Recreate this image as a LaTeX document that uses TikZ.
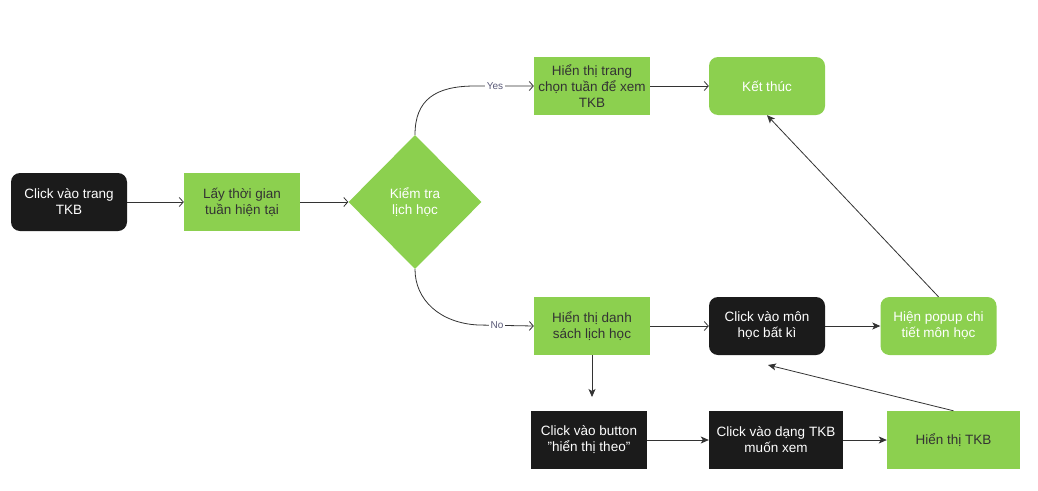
\documentclass[tikz,border=0pt]{standalone}
\usepackage{fontspec}
\setmainfont{Liberation Sans}
\usetikzlibrary{shapes.geometric,arrows.meta}
\definecolor{gr}{HTML}{8CD04F}
\definecolor{bk}{HTML}{1B1B1B}
\definecolor{ln}{HTML}{333333}
\definecolor{lbl}{HTML}{5A5A78}
\tikzset{
  base/.style={minimum width=116pt,minimum height=58pt,inner sep=2pt,align=center,font=\fontsize{13.5}{16}\selectfont},
  greenbox/.style={base,fill=gr,text=ln},
  greenround/.style={base,fill=gr,text=white,rounded corners=9pt},
  blackbox/.style={base,fill=bk,text=white},
  blackround/.style={base,fill=bk,text=white,rounded corners=9pt},
  openarr/.style={draw=ln,line width=0.8pt,-{Straight Barb[length=4pt,width=9pt]}},
  fillarr/.style={draw=ln,line width=0.8pt,-{Stealth[length=8pt,width=7pt,inset=2pt]}},
  lab/.style={fill=white,text=lbl,font=\fontsize{10}{11}\selectfont,inner sep=2pt}
}
\begin{document}
\begin{tikzpicture}[x=1pt,y=-1pt]
\useasboundingbox (0,0) rectangle (1038,490);
\node[blackround] (start) at (69,202) {Click vào trang\\TKB};
\node[greenbox] (get) at (242,202) {Lấy thời gian\\tuần hiện tại};
\node[diamond,fill=gr,text=white,minimum width=133pt,minimum height=134pt,inner sep=0pt,align=center,font=\fontsize{13.5}{16}\selectfont] (chk) at (415,202) {Kiểm tra\\lịch học};
\node[greenbox] (week) at (592,86) {Hiển thị trang\\chọn tuần để xem\\TKB};
\node[greenround] (end) at (767,86) {Kết thúc};
\node[greenbox] (list) at (592,326) {Hiển thị danh\\sách lịch học};
\node[blackround] (subj) at (767,326) {Click vào môn\\học bất kì};
\node[greenround] (popup) at (938.5,326) {Hiện popup chi\\tiết môn học};
\node[blackbox] (btn) at (589,440) {Click vào button\\"hiển thị theo"};
\node[blackbox,minimum width=134pt] (mode) at (776,440) {Click vào dạng TKB\\muốn xem};
\node[greenbox,minimum width=133pt] (show) at (953.5,440) {Hiển thị TKB};
\coordinate (dn) at (592,397);
\coordinate (up) at (768,365);
\draw[openarr] (start) -- (get);
\draw[openarr] (get) -- (chk.west);
\draw[openarr] (chk.north) .. controls (415,100) and (435,86) .. (475,86) -- node[lab,pos=0.34]{Yes} (week.west);
\draw[openarr] (chk.south) .. controls (415,300) and (440,323) .. (478,325) -- node[lab,pos=0.34]{No} (list.west);
\draw[openarr] (week) -- (end);
\draw[openarr] (list) -- (subj);
\draw[fillarr] (subj) -- (popup);
\draw[fillarr] (popup.north) -- (end.south);
\draw[fillarr] (list.south) -- (dn);
\draw[fillarr] (btn) -- (mode);
\draw[fillarr] (mode) -- (show);
\draw[fillarr] (show.north) -- (up);
\end{tikzpicture}
\end{document}
